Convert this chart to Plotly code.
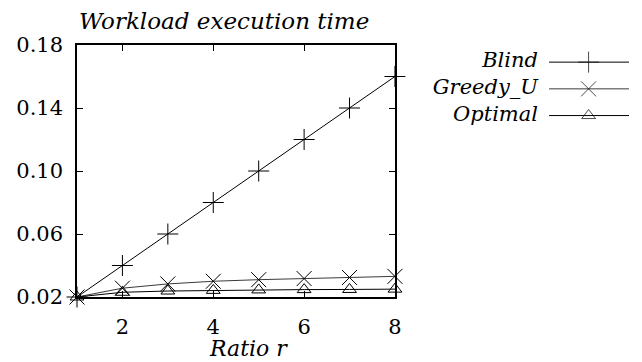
import plotly.graph_objects as go

# Workload execution time versus the ratio r, for three placement strategies
ratio = [1, 2, 3, 4, 5, 6, 7, 8]
blind = [0.02, 0.04, 0.06, 0.08, 0.10, 0.12, 0.14, 0.16]
greedy_u = [0.02, 0.0256, 0.0283, 0.0300, 0.0310, 0.0317, 0.0324, 0.0331]
optimal = [0.02, 0.0230, 0.0238, 0.0242, 0.0245, 0.0247, 0.0248, 0.0250]

y_ticks = [0.02, 0.06, 0.10, 0.14, 0.18]
x_ticks = [2, 4, 6, 8]

series = [
    ("Blind", blind, "cross-thin", 15, "black"),
    ("Greedy_U", greedy_u, "x-thin", 15, "#3a3a3a"),
    ("Optimal", optimal, "triangle-up-open", 12, "black"),
]

FONT = "DejaVu Serif"
fig = go.Figure()

for name, vals, sym, size, col in series:
    fig.add_trace(go.Scatter(
        x=ratio, y=vals, mode="lines+markers", name=name,
        line=dict(color=col, width=1),
        marker=dict(symbol=sym, size=size, color="black",
                    line=dict(color="black", width=1)),
        showlegend=False, cliponaxis=False,
    ))

# key drawn on its own hidden axes: label on the left, sample line on the right
key_rows = [0.932, 0.826, 0.720]
for (name, vals, sym, size, col), ky in zip(series, key_rows):
    fig.add_trace(go.Scatter(
        x=[0.638, 0.817, 1.0], y=[ky, ky, ky], mode="lines+markers",
        line=dict(color=col, width=1),
        marker=dict(symbol=sym, size=[0, size, 0], color="black",
                    line=dict(color="black", width=1)),
        xaxis="x2", yaxis="y2", showlegend=False, cliponaxis=False,
    ))
    fig.add_trace(go.Scatter(
        x=[0.588], y=[ky], mode="text", text=[f"<i>{name}</i>"],
        textposition="middle left",
        textfont=dict(family=FONT, size=21, color="black"),
        xaxis="x2", yaxis="y2", showlegend=False, cliponaxis=False,
    ))

axis_common = dict(
    showline=True, linecolor="black", linewidth=1.5, mirror="ticks",
    ticks="inside", ticklen=6, tickcolor="black", tickwidth=1,
    showgrid=False, zeroline=False,
    tickfont=dict(family=FONT, size=21, color="black"),
)

fig.update_layout(
    width=642, height=362,
    font=dict(family=FONT),
    margin=dict(l=77, r=6, t=45, b=65),
    paper_bgcolor="white", plot_bgcolor="white",
    xaxis=dict(axis_common, domain=[0, 0.576], range=[1, 8],
               tickvals=x_ticks, ticktext=[str(v) for v in x_ticks],
               ticklabelstandoff=10),
    yaxis=dict(axis_common, range=[0.02, 0.18], tickvals=y_ticks,
               ticktext=[f"{v:.2f}" for v in y_ticks],
               ticklabelstandoff=8),
    xaxis2=dict(domain=[0.6, 1.0], range=[0, 1], visible=False, anchor="y2"),
    yaxis2=dict(domain=[0, 1], range=[0, 1], visible=False, anchor="x2"),
    annotations=[
        dict(text="<i>Workload execution time</i>", xref="paper", yref="paper",
             x=0.0, y=1.095, xanchor="left", yanchor="middle", showarrow=False,
             font=dict(family=FONT, size=23, color="black")),
        dict(text="<i>Ratio r</i>", xref="paper", yref="paper",
             x=0.311, y=-0.205, xanchor="center", yanchor="middle",
             showarrow=False, font=dict(family=FONT, size=22, color="black")),
    ],
)

fig.write_html("out.html")
